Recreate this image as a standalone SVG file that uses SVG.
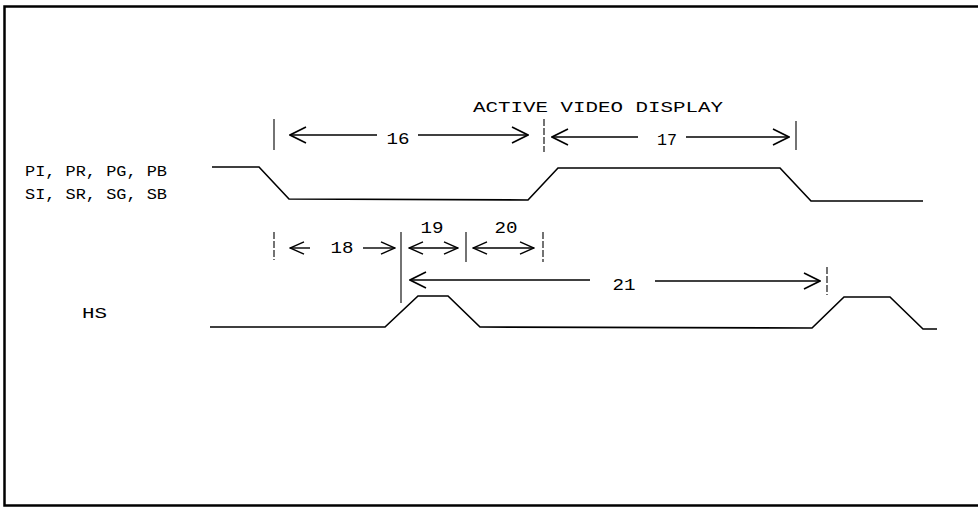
<svg xmlns="http://www.w3.org/2000/svg" width="978" height="508" viewBox="0 0 978 508">
  <style>
    .wave { fill: none; stroke: #000; stroke-width: 1.6; stroke-linejoin: miter; }
    .tick { stroke: #000; stroke-width: 1.1; }
    .dash { stroke-dasharray: 7 2; }
    .dim { stroke: #000; stroke-width: 1.4; fill: none; }
    .frame { stroke: #000; stroke-width: 2.5; fill: none; }
    text { font-family: "Liberation Mono", "DejaVu Sans Mono", monospace; font-size: 15px; fill: #000; }
    .num { font-size: 16px; }
  </style>
  <defs>
    <marker id="head" viewBox="0 0 18 18" refX="17" refY="9" markerWidth="18" markerHeight="18" markerUnits="userSpaceOnUse" orient="auto-start-reverse">
      <path d="M1,1 L17,9 L1,17" fill="none" stroke="#000" stroke-width="1.6"/>
    </marker>
    <marker id="headS" viewBox="0 0 18 16" refX="17" refY="8" markerWidth="16" markerHeight="14" markerUnits="userSpaceOnUse" orient="auto-start-reverse">
      <path d="M1,1 L17,8 L1,15" fill="none" stroke="#000" stroke-width="1.6"/>
    </marker>
  </defs>
  <rect width="978" height="508" fill="#fff"/>

  <g id="frame">
    <path class="frame" d="M978,6.5 L4.5,6.5 L4.5,505.5 L978,505.5"/>
  </g>

  <g id="title">
    <text x="473" y="112" textLength="250" lengthAdjust="spacingAndGlyphs">ACTIVE VIDEO DISPLAY</text>
  </g>

  <g id="label-p">
    <text x="25" y="176" textLength="142" lengthAdjust="spacingAndGlyphs">PI, PR, PG, PB</text>
    <text x="25" y="199" textLength="142" lengthAdjust="spacingAndGlyphs">SI, SR, SG, SB</text>
  </g>

  <g id="label-hs">
    <text x="82" y="318" textLength="25" lengthAdjust="spacingAndGlyphs">HS</text>
  </g>

  <g id="wave-p">
    <polyline class="wave" points="212,167 259,167 289,199 528,200 558,168 780,168 811,201 923,201"/>
  </g>

  <g id="wave-hs">
    <polyline class="wave" points="210,327 385,327 418,296 448,296 480,327 812,328 844,297 890,297 923,329 937,329"/>
  </g>

  <g id="ticks">
    <line class="tick" x1="274" y1="119" x2="274" y2="150"/>
    <line class="tick dash" x1="544" y1="119" x2="544" y2="152"/>
    <line class="tick" x1="796" y1="121" x2="796" y2="150"/>
    <line class="tick dash" x1="274" y1="232" x2="274" y2="260"/>
    <line class="tick" x1="401" y1="232" x2="401" y2="303"/>
    <line class="tick" x1="466" y1="232" x2="466" y2="262"/>
    <line class="tick dash" x1="543" y1="232" x2="543" y2="262"/>
    <line class="tick dash" x1="827" y1="267" x2="827" y2="295"/>
  </g>

  <g id="connectors">
    <line class="dim" x1="290" y1="135" x2="377" y2="135" marker-start="url(#head)"/>
    <line class="dim" x1="418" y1="135" x2="528" y2="135" marker-end="url(#head)"/>
    <line class="dim" x1="552" y1="137" x2="638" y2="137" marker-start="url(#head)"/>
    <line class="dim" x1="686" y1="137" x2="789" y2="137" marker-end="url(#head)"/>
    <line class="dim" x1="290" y1="248" x2="310" y2="248" marker-start="url(#headS)"/>
    <line class="dim" x1="363" y1="248" x2="395" y2="248" marker-end="url(#headS)"/>
    <line class="dim" x1="409" y1="248" x2="458" y2="248" marker-start="url(#headS)" marker-end="url(#headS)"/>
    <line class="dim" x1="473" y1="248" x2="534" y2="248" marker-start="url(#headS)" marker-end="url(#headS)"/>
    <line class="dim" x1="410" y1="280" x2="590" y2="280" marker-start="url(#head)"/>
    <line class="dim" x1="655" y1="281" x2="820" y2="281" marker-end="url(#head)"/>
  </g>

  <g id="dim-labels">
    <text class="num" x="398" y="144" text-anchor="middle" textLength="23" lengthAdjust="spacingAndGlyphs">16</text>
    <text class="num" x="667" y="145" text-anchor="middle" textLength="20" lengthAdjust="spacingAndGlyphs">17</text>
    <text class="num" x="342" y="253" text-anchor="middle" textLength="23" lengthAdjust="spacingAndGlyphs">18</text>
    <text class="num" x="432" y="233" text-anchor="middle" textLength="23" lengthAdjust="spacingAndGlyphs">19</text>
    <text class="num" x="506" y="233" text-anchor="middle" textLength="23" lengthAdjust="spacingAndGlyphs">20</text>
    <text class="num" x="624" y="290" text-anchor="middle" textLength="23" lengthAdjust="spacingAndGlyphs">21</text>
  </g>
</svg>
